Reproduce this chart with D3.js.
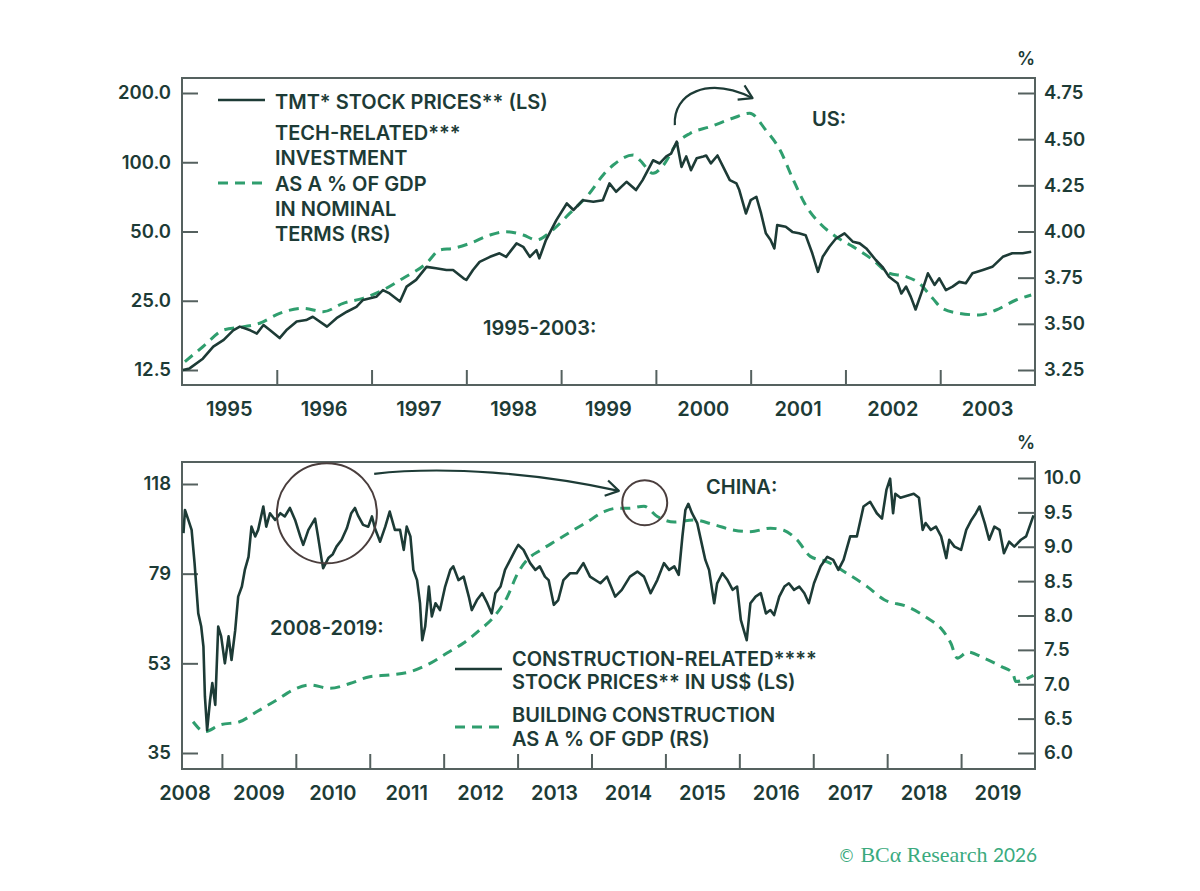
<!DOCTYPE html>
<html>
<head>
<meta charset="utf-8">
<script src="https://cdn.jsdelivr.net/npm/d3@7"></script>
<style>
  body { margin: 0; background: #fff; }
  svg text { font-family: Inter, "Open Sans", sans-serif; font-weight: 600; fill: #1d3b36; }
</style>
</head>
<body>
<svg id="chart" width="1200" height="891"></svg>
<script>
// ---- US panel, 1995-2003 (decimal year, value) ----
const tmtPrices = [
  [1995.01,12.5],[1995.08,12.7],[1995.22,14.0],[1995.33,15.8],[1995.44,16.9],[1995.54,18.6],[1995.61,19.3],
  [1995.72,18.6],[1995.79,18.0],[1995.86,19.6],[1995.93,18.6],[1996.03,17.2],[1996.10,18.6],[1996.21,20.3],
  [1996.31,20.6],[1996.38,21.3],[1996.53,19.3],[1996.63,21.0],[1996.74,22.4],[1996.84,23.5],[1996.91,25.2],
  [1997.05,26.0],[1997.12,27.8],[1997.19,26.9],[1997.30,24.8],[1997.37,28.8],[1997.47,30.8],[1997.58,35.1],
  [1997.68,34.6],[1997.79,34.0],[1997.86,34.0],[1997.97,31.3],[1998.00,30.8],[1998.07,34.0],[1998.14,36.9],
  [1998.25,38.8],[1998.35,40.2],[1998.42,38.8],[1998.53,44.4],[1998.60,42.9],[1998.67,38.8],[1998.74,41.5],
  [1998.77,38.2],[1998.84,45.9],[1998.95,56.0],[1999.06,66.2],[1999.13,62.0],[1999.23,68.4],[1999.34,67.3],
  [1999.44,68.4],[1999.51,80.9],[1999.58,74.4],[1999.69,82.2],[1999.79,75.7],[1999.86,83.6],[1999.97,102],
  [2000.04,98.8],[2000.11,106],[2000.16,109],[2000.22,123],[2000.27,95.5],[2000.32,106],[2000.37,92.4],
  [2000.43,104],[2000.50,106],[2000.53,107],[2000.58,98.8],[2000.65,107],[2000.71,95.5],[2000.78,83.6],
  [2000.85,80.9],[2000.88,75.7],[2000.95,59.9],[2001.00,68.4],[2001.06,70.8],[2001.11,59.9],[2001.16,49.1],
  [2001.21,45.9],[2001.25,42.2],[2001.28,53.3],[2001.37,52.4],[2001.44,49.8],[2001.51,49.1],[2001.58,48.2],
  [2001.65,40.2],[2001.71,33.4],[2001.76,38.8],[2001.83,42.9],[2001.90,46.6],[2001.99,49.1],[2002.08,45.1],
  [2002.15,44.4],[2002.22,42.2],[2002.32,37.6],[2002.39,35.1],[2002.46,31.8],[2002.55,29.8],[2002.59,26.9],
  [2002.64,28.8],[2002.69,26.0],[2002.74,22.9],[2002.80,26.9],[2002.87,32.9],[2002.94,29.3],[2002.99,31.3],
  [2003.06,27.8],[2003.13,28.8],[2003.20,30.2],[2003.27,29.8],[2003.34,32.9],[2003.45,34.0],[2003.55,35.1],
  [2003.66,38.8],[2003.76,40.2],[2003.87,40.2],[2003.96,40.8]
];
const techInvestment = [
  [1995.03,3.295],[1995.22,3.376],[1995.44,3.467],[1995.65,3.484],[1995.82,3.503],[1996.03,3.557],
  [1996.28,3.584],[1996.49,3.566],[1996.70,3.611],[1996.91,3.638],[1997.12,3.683],[1997.33,3.746],
  [1997.58,3.828],[1997.72,3.900],[1997.86,3.909],[1998.04,3.936],[1998.25,3.981],[1998.42,3.999],
  [1998.60,3.981],[1998.74,3.954],[1998.91,4.008],[1999.09,4.098],[1999.30,4.207],[1999.45,4.310],
  [1999.55,4.360],[1999.76,4.414],[1999.83,4.387],[1999.97,4.315],[2000.08,4.360],[2000.22,4.477],
  [2000.36,4.531],[2000.57,4.567],[2000.81,4.613],[2000.99,4.640],[2001.16,4.549],[2001.31,4.441],
  [2001.45,4.279],[2001.59,4.134],[2001.73,4.044],[2001.90,3.972],[2002.08,3.918],[2002.29,3.846],
  [2002.46,3.774],[2002.64,3.756],[2002.78,3.719],[2002.92,3.638],[2003.02,3.584],[2003.20,3.557],
  [2003.41,3.548],[2003.59,3.575],[2003.80,3.629],[2003.96,3.656]
];
const usYears = [1995, 1996, 1997, 1998, 1999, 2000, 2001, 2002, 2003];
const usLeftTicks = [12.5, 25, 50, 100, 200];
const usRightTicks = [3.25, 3.5, 3.75, 4.0, 4.25, 4.5, 4.75];

// ---- China panel, 2008-2019 ----
const constructionPrices = [
  [2008.48,94.6],[2008.50,105],[2008.54,101],[2008.59,96],[2008.63,82.6],[2008.68,65.8],[2008.72,62],
  [2008.75,56.6],[2008.77,45.2],[2008.80,38.8],[2008.84,44.5],[2008.87,48],[2008.91,43.5],[2008.95,62],
  [2008.99,59.3],[2009.04,52.5],[2009.09,59.3],[2009.13,53.3],[2009.18,61],[2009.22,71],[2009.27,74.3],
  [2009.31,80.1],[2009.36,85],[2009.40,97.4],[2009.45,93.2],[2009.49,96],[2009.56,106.7],[2009.60,97.4],
  [2009.65,103.5],[2009.72,100.4],[2009.79,103.5],[2009.85,102],[2009.92,106],[2009.99,100.4],[2010.06,93.2],
  [2010.10,89.7],[2010.17,96],[2010.26,101],[2010.30,93.2],[2010.35,83.8],[2010.37,80.7],[2010.44,84.5],
  [2010.50,86],[2010.55,89],[2010.62,91.8],[2010.69,96.7],[2010.75,103.5],[2010.80,106],[2010.84,102.5],
  [2010.91,98.2],[2010.98,97.4],[2011.03,102],[2011.07,96.7],[2011.14,91],[2011.21,97.4],[2011.27,104.3],
  [2011.34,96],[2011.41,96],[2011.46,87.7],[2011.50,97.4],[2011.55,93.2],[2011.59,80.1],[2011.64,76.5],
  [2011.68,68.9],[2011.71,58.3],[2011.75,62],[2011.80,74.3],[2011.84,64.9],[2011.89,68.9],[2011.95,66.8],
  [2012.02,74.3],[2012.09,80.1],[2012.13,81.4],[2012.20,76.5],[2012.27,77.7],[2012.34,71],[2012.38,66.8],
  [2012.45,69.9],[2012.52,72.1],[2012.59,68.9],[2012.65,65.8],[2012.70,72.1],[2012.77,74.3],[2012.83,80.1],
  [2012.90,83.8],[2012.97,87.7],[2013.01,89.7],[2013.08,87.7],[2013.17,82.6],[2013.24,80.1],[2013.30,81.4],
  [2013.37,77.7],[2013.42,76.5],[2013.49,68.4],[2013.55,69.9],[2013.62,76.5],[2013.71,78.9],[2013.80,78.9],
  [2013.89,82.6],[2013.98,77.7],[2014.12,75.4],[2014.21,77.7],[2014.32,71],[2014.41,73.2],[2014.52,77.7],
  [2014.62,79.5],[2014.71,77.7],[2014.80,72.1],[2014.89,76.5],[2014.98,82.6],[2015.05,80.1],[2015.12,81.4],
  [2015.18,78.3],[2015.23,93.2],[2015.27,105],[2015.31,108],[2015.36,103.5],[2015.43,99],[2015.50,89],
  [2015.54,83.8],[2015.59,80.1],[2015.66,68.9],[2015.70,75.4],[2015.77,78.9],[2015.84,76.5],[2015.91,73.2],
  [2015.97,74.3],[2016.02,63.9],[2016.06,61],[2016.10,58.3],[2016.15,68.9],[2016.22,71],[2016.29,72.1],
  [2016.36,65.8],[2016.42,66.8],[2016.47,65.3],[2016.54,71],[2016.61,74.3],[2016.67,75.4],[2016.74,73.2],
  [2016.81,74.3],[2016.88,72.1],[2016.94,68.9],[2017.01,75.4],[2017.10,81.4],[2017.19,85],[2017.27,83.8],
  [2017.34,80.1],[2017.41,83.8],[2017.50,93.2],[2017.59,93.2],[2017.68,106.7],[2017.77,109],[2017.86,103.5],
  [2017.93,101],[2017.99,115],[2018.04,121],[2018.08,103.5],[2018.11,113],[2018.18,111],[2018.27,112],
  [2018.36,113],[2018.43,111],[2018.48,96],[2018.52,99],[2018.59,96],[2018.66,97.4],[2018.73,93.2],
  [2018.80,84.5],[2018.84,91.8],[2018.91,89],[2019.00,87.7],[2019.07,96],[2019.14,100.4],[2019.20,103.5],
  [2019.25,106.7],[2019.32,99],[2019.38,91.8],[2019.45,97.4],[2019.52,96],[2019.58,86.4],[2019.65,91],
  [2019.72,89],[2019.81,91.8],[2019.88,93.2],[2019.98,102.5]
];
const buildingConstruction = [
  [2008.61,6.455],[2008.77,6.31],[2008.97,6.407],[2009.24,6.455],[2009.47,6.60],[2009.74,6.77],
  [2009.96,6.916],[2010.19,6.99],[2010.46,6.94],[2010.73,7.01],[2011.00,7.11],[2011.27,7.135],
  [2011.54,7.18],[2011.81,7.30],[2012.04,7.45],[2012.27,7.60],[2012.49,7.79],[2012.68,7.98],
  [2012.86,8.27],[2013.00,8.61],[2013.13,8.81],[2013.31,8.95],[2013.54,9.10],[2013.72,9.22],
  [2013.94,9.36],[2014.17,9.51],[2014.35,9.56],[2014.50,9.56],[2014.71,9.59],[2014.89,9.44],
  [2015.12,9.36],[2015.38,9.39],[2015.66,9.32],[2015.93,9.24],[2016.15,9.22],[2016.42,9.27],
  [2016.60,9.24],[2016.78,9.10],[2016.96,8.86],[2017.19,8.78],[2017.46,8.61],[2017.73,8.42],
  [2017.96,8.23],[2018.27,8.13],[2018.55,7.96],[2018.73,7.81],[2018.86,7.60],[2018.95,7.38],
  [2019.09,7.47],[2019.31,7.38],[2019.54,7.26],[2019.70,7.16],[2019.74,7.04],[2019.98,7.13]
];
const cnYears = [2008, 2009, 2010, 2011, 2012, 2013, 2014, 2015, 2016, 2017, 2018, 2019];
const cnLeftTicks = [35, 52.5, 78.75, 118.125];
const cnRightTicks = [6.0, 6.5, 7.0, 7.5, 8.0, 8.5, 9.0, 9.5, 10.0];

const usLegend = ["TMT* STOCK PRICES** (LS)", "TECH-RELATED***", "INVESTMENT", "AS A % OF GDP", "IN NOMINAL", "TERMS (RS)"];
const cnLegend = ["CONSTRUCTION-RELATED****", "STOCK PRICES** IN US$ (LS)", "BUILDING CONSTRUCTION", "AS A % OF GDP (RS)"];

const INK = "#1d3b36", GREEN = "#2f9e6e", FRAME = "#55615f", CIRCLE = "#4a3e3d";
const L = 182, R = 1035;

const svg = d3.select("#chart");

function panel(cfg) {
  const x = d3.scaleLinear().domain(cfg.xDomain).range([L, R]);
  const yL = d3.scaleLog().domain(cfg.leftDomain).range(cfg.leftRange);
  const yR = d3.scaleLinear().domain(cfg.rightDomain).range(cfg.rightRange);
  const g = svg.append("g");

  g.append("clipPath").attr("id", cfg.id + "-clip")
    .append("rect").attr("x", L).attr("y", cfg.top).attr("width", R - L).attr("height", cfg.bottom - cfg.top);

  const styleAxis = a => {
    a.select(".domain").remove();
    a.selectAll(".tick line").attr("stroke", FRAME).attr("stroke-width", 2);
    a.selectAll(".tick text").attr("font-size", 18.5);
  };

  g.append("g").attr("transform", `translate(${L},0)`)
    .call(d3.axisLeft(yL).tickValues(cfg.leftTicks).tickFormat(cfg.leftFormat)
      .tickSizeInner(-16).tickSizeOuter(0).tickPadding(11))
    .call(styleAxis);

  g.append("g").attr("transform", `translate(${R},0)`)
    .call(d3.axisRight(yR).tickValues(cfg.rightTicks).tickFormat(d3.format(cfg.rightFormat))
      .tickSizeInner(-17).tickSizeOuter(0).tickPadding(9))
    .call(styleAxis);

  g.append("g").attr("transform", `translate(0,${cfg.bottom})`)
    .call(d3.axisBottom(x).tickValues(cfg.years.slice(1)).tickFormat("")
      .tickSizeInner(-15).tickSizeOuter(0))
    .call(styleAxis);

  // year labels centred in each year span
  g.selectAll(".yr").data(cfg.years).enter().append("text")
    .attr("class", "yr")
    .attr("x", d => x(d + 0.5))
    .attr("y", cfg.bottom + 31)
    .attr("text-anchor", "middle")
    .attr("font-size", 20)
    .text(d => d);

  g.append("rect").attr("x", L).attr("y", cfg.top).attr("width", R - L).attr("height", cfg.bottom - cfg.top)
    .attr("fill", "none").attr("stroke", FRAME).attr("stroke-width", 2);

  g.append("text").attr("x", R - 9).attr("y", cfg.top - 13).attr("text-anchor", "middle")
    .attr("font-size", 18).text("%");

  const plot = g.append("g").attr("clip-path", `url(#${cfg.id}-clip)`);

  plot.append("path").datum(cfg.dashed)
    .attr("fill", "none").attr("stroke", GREEN).attr("stroke-width", 3)
    .attr("stroke-dasharray", "10,7")
    .attr("d", d3.line().x(d => x(d[0])).y(d => yR(d[1])).curve(d3.curveMonotoneX));

  plot.append("path").datum(cfg.solid)
    .attr("fill", "none").attr("stroke", INK).attr("stroke-width", 2.6).attr("stroke-linejoin", "round")
    .attr("d", d3.line().x(d => x(d[0])).y(d => yL(d[1])));

  return { g, x, yL, yR };
}

const us = panel({
  id: "us", top: 78, bottom: 385,
  xDomain: [1995, 2004], years: usYears,
  leftDomain: [12.5, 200], leftRange: [370, 93], leftTicks: usLeftTicks, leftFormat: d3.format(".1f"),
  rightDomain: [3.25, 4.75], rightRange: [370, 93], rightTicks: usRightTicks, rightFormat: ".2f",
  solid: tmtPrices, dashed: techInvestment
});

const cn = panel({
  id: "cn", top: 462, bottom: 769,
  xDomain: [2008.46, 2020], years: cnYears,
  leftDomain: [35, 118.125], leftRange: [753, 484], leftTicks: cnLeftTicks, leftFormat: d3.format("d"),
  rightDomain: [6, 10], rightRange: [753, 478], rightTicks: cnRightTicks, rightFormat: ".1f",
  solid: constructionPrices, dashed: buildingConstruction
});

// ---- legends ----
function legendSwatch(x0, y, dashed) {
  svg.append("line").attr("x1", x0).attr("x2", x0 + 47).attr("y1", y).attr("y2", y)
    .attr("stroke", dashed ? GREEN : INK).attr("stroke-width", dashed ? 3 : 2.6)
    .attr("stroke-dasharray", dashed ? "10,7" : null);
}
function label(x0, yc, txt) {
  svg.append("text").attr("x", x0).attr("y", yc + 7.5).attr("font-size", 20).text(txt);
}

legendSwatch(218, 100, false);
legendSwatch(218, 183, true);
[101, 132, 157, 183, 208, 233].forEach((yc, i) => label(275, yc, usLegend[i]));

legendSwatch(455, 669, false);
legendSwatch(455, 727, true);
[658, 681, 714, 738].forEach((yc, i) => label(512, yc, cnLegend[i]));

label(812, 118, "US:");
label(483, 327, "1995-2003:");
label(706, 486, "CHINA:");
label(270, 627, "2008-2019:");

// ---- annotations (anchored in data units) ----
function arrow(p0, c1, c2, p1) {
  svg.append("path")
    .attr("d", `M${p0[0]},${p0[1]} C${c1[0]},${c1[1]} ${c2[0]},${c2[1]} ${p1[0]},${p1[1]}`)
    .attr("fill", "none").attr("stroke", INK).attr("stroke-width", 2.2);
  const ang = Math.atan2(p1[1] - c2[1], p1[0] - c2[0]);
  const head = [ang + Math.PI - 0.55, ang + Math.PI + 0.55].map(a => [p1[0] + 15 * Math.cos(a), p1[1] + 15 * Math.sin(a)]);
  svg.append("path")
    .attr("d", `M${head[0][0]},${head[0][1]} L${p1[0]},${p1[1]} L${head[1][0]},${head[1][1]}`)
    .attr("fill", "none").attr("stroke", INK).attr("stroke-width", 2.2).attr("stroke-linejoin", "round");
}

// US: curved arrow from the 2000 stock peak to the investment peak
const usA0 = [us.x(2000.20), us.yL(145)], usA1 = [us.x(2001.02), us.yL(190)];
arrow(usA0, [usA0[0] - 2, usA0[1] - 32], [usA1[0] - 45, usA1[1] - 22], usA1);

// China: circles and arrow
svg.append("circle").attr("cx", cn.x(2010.42)).attr("cy", cn.yL(103.5)).attr("r", 50)
  .attr("fill", "none").attr("stroke", CIRCLE).attr("stroke-width", 2);
svg.append("circle").attr("cx", cn.x(2014.72)).attr("cy", cn.yR(9.64)).attr("r", 22.5)
  .attr("fill", "none").attr("stroke", CIRCLE).attr("stroke-width", 2);
const cnA0 = [cn.x(2011.06), cn.yL(123.7)], cnA1 = [cn.x(2014.37), cn.yL(114.5)];
arrow(cnA0, [cnA0[0] + 70, cnA0[1] - 8], [cnA1[0] - 80, cnA1[1] - 18], cnA1);

// ---- footer ----
const foot = svg.append("text").attr("x", 1037).attr("y", 862).attr("text-anchor", "end")
  .style("fill", "#3aaa7e").style("font-weight", 400);
foot.append("tspan").style("font-family", "'DejaVu Sans'").attr("font-size", 17).text("© ");
foot.append("tspan").style("font-family", "'Liberation Serif', serif").attr("font-size", 22).text("BCα Research ");
foot.append("tspan").style("font-family", "Lato, sans-serif").attr("font-size", 19).text("2026");
</script>
</body>
</html>
